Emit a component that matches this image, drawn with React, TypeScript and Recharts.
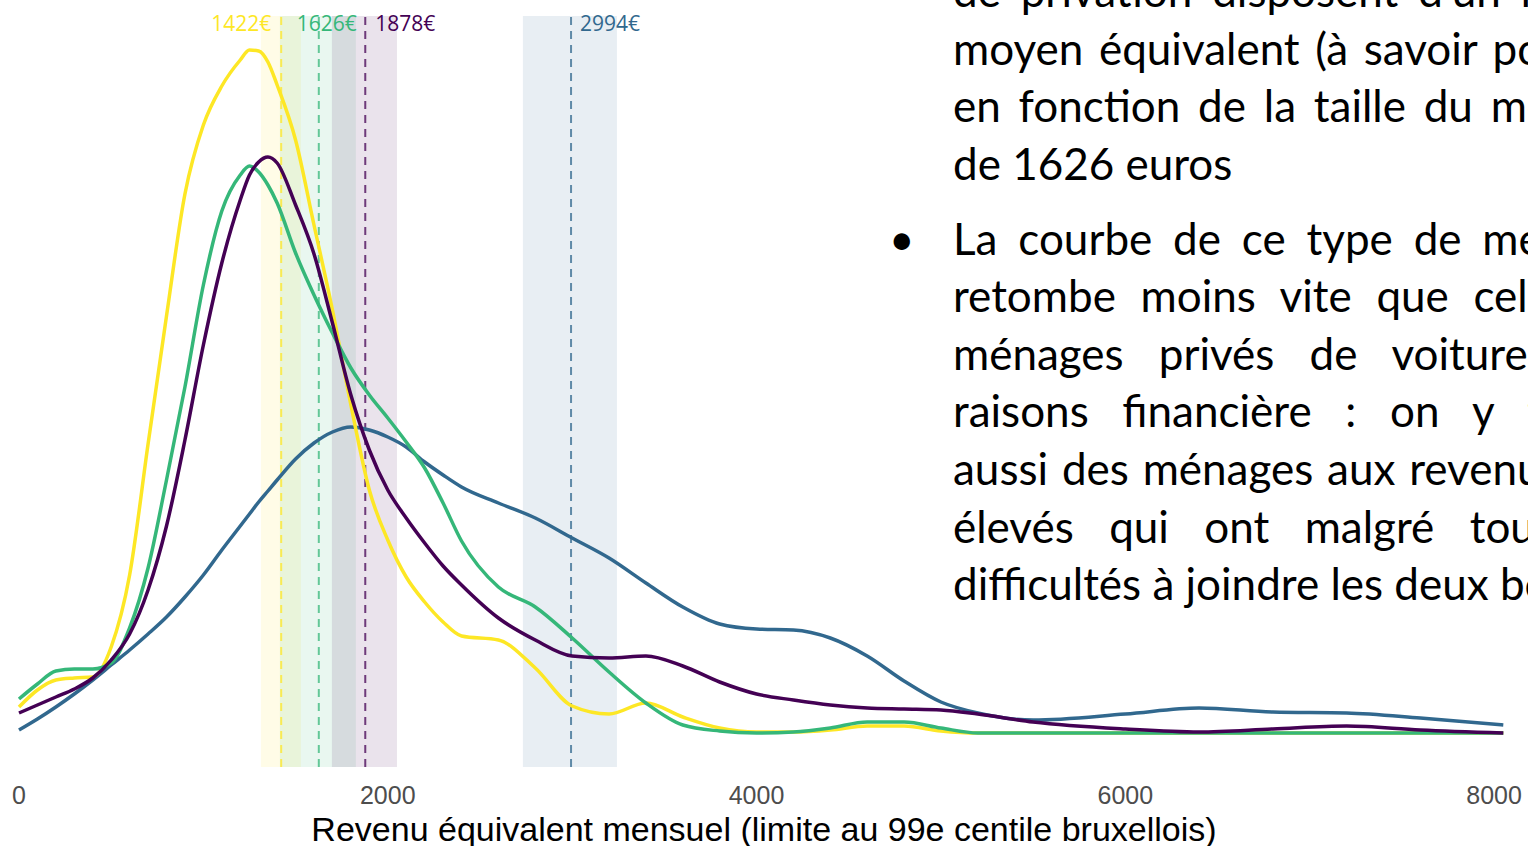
import React from "react";
import { ComposedChart, Line, XAxis, YAxis, ReferenceArea, ReferenceLine } from "recharts";

// revenu équivalent mensuel (€)
const revenus = [
  0, 100, 200, 300, 400, 500, 600, 700, 800, 900, 1000, 1100, 1200, 1250, 1300, 1350, 1400,
  1500, 1600, 1700, 1800, 1900, 2000, 2100, 2200, 2300, 2400, 2600, 2800, 3000, 3200, 3400,
  3600, 3800, 4000, 4200, 4400, 4600, 4800, 5000, 5200, 5500, 6000, 6400, 6800, 7200, 7600, 8050,
];

// densités (x 1e-4)
const jaune = [
  0.26, 0.43, 0.53, 0.55, 0.56, 0.86, 1.58, 2.89, 4.17, 5.39, 6.08, 6.47, 6.73, 6.83, 6.82, 6.71, 6.48,
  5.93, 5.08, 4.23, 3.28, 2.43, 1.93, 1.56, 1.31, 1.11, 0.97, 0.93, 0.65, 0.27, 0.19, 0.3,
  0.16, 0.05, 0.01, 0.01, 0.03, 0.07, 0.07, 0.02, 0, 0, 0, 0, 0, 0, 0, 0,
];
const vert = [
  0.34, 0.49, 0.62, 0.64, 0.64, 0.7, 1.05, 1.65, 2.53, 3.46, 4.48, 5.22, 5.58, 5.67, 5.61, 5.48, 5.3,
  4.8, 4.38, 4.0, 3.65, 3.38, 3.15, 2.91, 2.65, 2.3, 1.92, 1.46, 1.26, 0.95, 0.61, 0.3,
  0.08, 0.02, 0, 0.01, 0.05, 0.11, 0.11, 0.05, 0, 0, 0, 0, 0, 0, 0, 0,
];
const violet = [
  0.2, 0.28, 0.36, 0.44, 0.55, 0.73, 0.99, 1.43, 2.07, 2.93, 3.88, 4.7, 5.33, 5.58, 5.71, 5.76, 5.7,
  5.28, 4.79, 4.1, 3.38, 2.83, 2.43, 2.15, 1.9, 1.67, 1.48, 1.15, 0.93, 0.77, 0.75, 0.77,
  0.67, 0.51, 0.39, 0.33, 0.28, 0.25, 0.24, 0.23, 0.19, 0.11, 0.04, 0.01, 0.04, 0.07, 0.03, 0,
];
const bleu = [
  0.03, 0.14, 0.26, 0.39, 0.53, 0.68, 0.83, 0.99, 1.16, 1.36, 1.58, 1.83, 2.07, 2.19, 2.31, 2.42, 2.53,
  2.74, 2.9, 3.01, 3.06, 3.03, 2.96, 2.86, 2.71, 2.58, 2.46, 2.3, 2.15, 1.95, 1.75, 1.5,
  1.26, 1.09, 1.04, 1.03, 0.95, 0.77, 0.52, 0.31, 0.2, 0.13, 0.19, 0.25, 0.21, 0.2, 0.15, 0.08,
];

const medianes = [1422, 1626, 1878, 2994];
const bandesBas = [1312, 1415, 1697, 2733];
const bandesHaut = [1529, 1827, 2050, 3243];
const xTicks = [0, 2000, 4000, 6000, 8000];

const series = [
  { key: "bleu", color: "#31688E" },
  { key: "jaune", color: "#FDE725" },
  { key: "vert", color: "#35B779" },
  { key: "violet", color: "#440154" },
];
// ordre des médianes : jaune, vert, violet, bleu
const medColors = ["#FDE725", "#35B779", "#440154", "#31688E"];
const labelOffsets = [
  { dx: -10, anchor: "end" },
  { dx: -22, anchor: "start" },
  { dx: 10, anchor: "start" },
  { dx: 9, anchor: "start" },
];

const data = revenus.map((x, i) => ({
  x,
  jaune: jaune[i],
  vert: vert[i],
  violet: violet[i],
  bleu: bleu[i],
}));

const para1 = [
  { text: "de privation disposent d'un revenu", base: 8, last: false },
  { text: "moyen équivalent (à savoir pondéré", base: 66, last: false },
  { text: "en fonction de la taille du ménage)", base: 123, last: false },
  { text: "de 1626 euros", base: 181, last: true },
];
const para2 = [
  { text: "La courbe de ce type de ménages", base: 256, last: false },
  { text: "retombe moins vite que celle des", base: 313, last: false },
  { text: "ménages privés de voiture pour", base: 371, last: false },
  { text: "raisons financière : on y trouve", base: 428, last: false },
  { text: "aussi des ménages aux revenus plus", base: 486, last: false },
  { text: "élevés qui ont malgré tout des", base: 544, last: false },
  { text: "difficultés à joindre les deux bouts", base: 601, last: true },
];

const FONT = 44;
const LH = 57.6;

const makeLabel = (i: number, txt: string) => (props: any) => {
  const vb = props.viewBox || {};
  const o = labelOffsets[i];
  return (
    <text
      x={vb.x + o.dx}
      y={31}
      textAnchor={o.anchor}
      fill={medColors[i]}
      fontSize={21}
      fontFamily="Open Sans"
    >
      {txt}
    </text>
  );
};

export default function App() {
  return (
    <div
      style={{
        position: "absolute",
        left: 0,
        top: 0,
        width: 1528,
        height: 846,
        overflow: "hidden",
        background: "#fff",
      }}
    >
      <ComposedChart width={1528} height={846} data={data} margin={{ top: 16, right: 0, bottom: 0, left: 0 }}>
        {medianes.map((m, i) => (
          <ReferenceArea
            key={"b" + i}
            x1={bandesBas[i]}
            x2={bandesHaut[i]}
            fill={medColors[i]}
            fillOpacity={0.11}
            stroke="none"
          />
        ))}
        <XAxis
          dataKey="x"
          type="number"
          domain={[-103, 8184]}
          allowDataOverflow
          ticks={xTicks}
          tickLine={false}
          axisLine={false}
          tickMargin={13}
          height={79}
          tick={{ fill: "#4D4D4D", fontSize: 25, fontFamily: "Liberation Sans" }}
          label={{
            value: "Revenu équivalent mensuel (limite au 99e centile bruxellois)",
            position: "insideBottom",
            offset: 5,
            fill: "#000",
            fontSize: 34,
            fontFamily: "Liberation Sans",
          }}
        />
        <YAxis hide domain={[-0.34, 7.17]} allowDataOverflow />
        {medianes.map((m, i) => (
          <ReferenceLine
            key={"m" + i}
            x={m}
            stroke={medColors[i]}
            strokeOpacity={0.75}
            strokeWidth={2}
            strokeDasharray="8 6"
            label={makeLabel(i, m + "€")}
          />
        ))}
        {series.map((s) => (
          <Line
            key={s.key}
            type="monotone"
            dataKey={s.key}
            stroke={s.color}
            strokeWidth={3.5}
            dot={false}
            activeDot={false}
            isAnimationActive={false}
          />
        ))}
      </ComposedChart>
      <div style={{ position: "absolute", left: 889, top: 256 - 45.8, fontFamily: "Lato", fontSize: FONT, lineHeight: LH + "px" }}>
        •
      </div>
      {[...para1, ...para2].map((l, i) => (
        <div
          key={i}
          style={{
            position: "absolute",
            left: 953,
            top: l.base - 45.8,
            width: 700,
            fontFamily: "Lato",
            fontSize: FONT,
            lineHeight: LH + "px",
            color: "#000",
            textAlign: l.last ? "left" : "justify",
            textAlignLast: l.last ? "left" : "justify",
            whiteSpace: "nowrap",
          }}
        >
          {l.text}
        </div>
      ))}
    </div>
  );
}
